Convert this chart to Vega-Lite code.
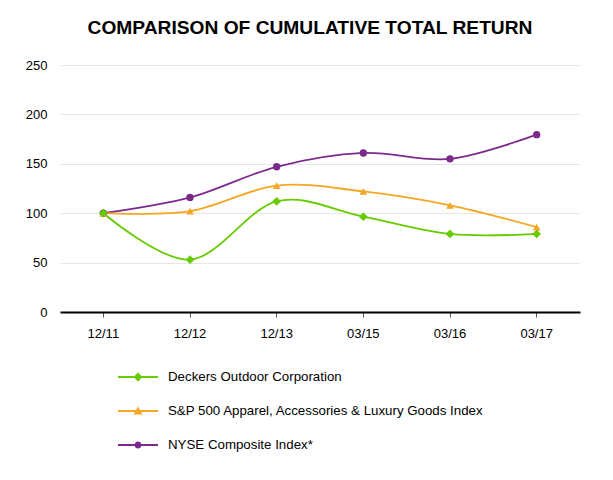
{
  "$schema": "https://vega.github.io/schema/vega-lite/v6.json",
  "width": 520,
  "height": 247,
  "autosize": {"type": "none"},
  "padding": {"left": 60, "top": 65, "right": 33, "bottom": 168},
  "background": "white",
  "config": {"view": {"stroke": null}},
  "title": {
    "text": "COMPARISON OF CUMULATIVE TOTAL RETURN",
    "font": "Liberation Sans",
    "fontSize": 19.2,
    "fontWeight": "bold",
    "color": "#000000",
    "anchor": "middle",
    "dx": -10,
    "offset": 21
  },
  "data": {
    "values": [
      {"period": "12/11", "series": "NYSE Composite Index*", "value": 100},
      {"period": "12/12", "series": "NYSE Composite Index*", "value": 116},
      {"period": "12/13", "series": "NYSE Composite Index*", "value": 147},
      {"period": "03/15", "series": "NYSE Composite Index*", "value": 161},
      {"period": "03/16", "series": "NYSE Composite Index*", "value": 155},
      {"period": "03/17", "series": "NYSE Composite Index*", "value": 179.5},
      {"period": "12/11", "series": "S&P 500 Apparel, Accessories & Luxury Goods Index", "value": 100},
      {"period": "12/12", "series": "S&P 500 Apparel, Accessories & Luxury Goods Index", "value": 102},
      {"period": "12/13", "series": "S&P 500 Apparel, Accessories & Luxury Goods Index", "value": 128},
      {"period": "03/15", "series": "S&P 500 Apparel, Accessories & Luxury Goods Index", "value": 122},
      {"period": "03/16", "series": "S&P 500 Apparel, Accessories & Luxury Goods Index", "value": 108},
      {"period": "03/17", "series": "S&P 500 Apparel, Accessories & Luxury Goods Index", "value": 86},
      {"period": "12/11", "series": "Deckers Outdoor Corporation", "value": 100},
      {"period": "12/12", "series": "Deckers Outdoor Corporation", "value": 53},
      {"period": "12/13", "series": "Deckers Outdoor Corporation", "value": 112},
      {"period": "03/15", "series": "Deckers Outdoor Corporation", "value": 96.5},
      {"period": "03/16", "series": "Deckers Outdoor Corporation", "value": 79},
      {"period": "03/17", "series": "Deckers Outdoor Corporation", "value": 79}
    ]
  },
  "encoding": {
    "x": {
      "field": "period",
      "type": "ordinal",
      "sort": null,
      "scale": {"type": "band", "paddingInner": 0, "paddingOuter": 0},
      "axis": {
        "title": null,
        "labelAngle": 0,
        "labelFont": "Liberation Sans",
        "labelFontSize": 13,
        "labelColor": "#000000",
        "labelPadding": 10,
        "tickColor": "#555555",
        "tickSize": 5,
        "tickBand": "center",
        "domainColor": "#000000",
        "domainWidth": 2,
        "grid": false
      }
    },
    "y": {
      "field": "value",
      "type": "quantitative",
      "scale": {"domain": [0, 250], "nice": false},
      "axis": {
        "title": null,
        "values": [0, 50, 100, 150, 200, 250],
        "labelFont": "Liberation Sans",
        "labelFontSize": 13,
        "labelColor": "#000000",
        "labelPadding": 13,
        "ticks": false,
        "domain": false,
        "grid": true,
        "gridColor": "#e6e6e6",
        "gridWidth": 1
      }
    },
    "color": {
      "field": "series",
      "type": "nominal",
      "scale": {
        "domain": ["Deckers Outdoor Corporation", "S&P 500 Apparel, Accessories & Luxury Goods Index", "NYSE Composite Index*"],
        "range": ["#66cc00", "#f5a623", "#7b2a8c"]
      },
      "legend": {
        "title": null,
        "orient": "none",
        "legendX": 68,
        "legendY": 302,
        "direction": "vertical",
        "symbolSize": 400,
        "rowPadding": 17,
        "labelOffset": 20,
        "labelFont": "Liberation Sans",
        "labelFontSize": 13.3,
        "labelColor": "#000000",
        "labelLimit": 500,
        "encode": {
          "symbols": {
            "update": {
              "shape": {"signal": "datum.value == 'Deckers Outdoor Corporation' ? 'M-2,-0.1H2V0.1H-2Z M0,-0.45L0.45,0L0,0.45L-0.45,0Z' : datum.value == 'NYSE Composite Index*' ? 'M-2,-0.1H2V0.1H-2Z M-0.35,0A0.35,0.35 0 1,1 0.35,0A0.35,0.35 0 1,1 -0.35,0Z' : 'M-2,-0.1H2V0.1H-2Z M0,-0.45L0.45,0.35L-0.45,0.35Z'"},
              "fill": {"scale": "color", "field": "value"},
              "strokeWidth": {"value": 0},
              "opacity": {"value": 1}
            }
          }
        }
      }
    }
  },
  "layer": [
    {
      "mark": {"type": "line", "interpolate": "cardinal", "strokeWidth": 1.8}
    },
    {
      "transform": [{"filter": "datum.series == 'NYSE Composite Index*'"}],
      "mark": {"type": "point", "shape": "circle", "filled": true, "opacity": 1, "size": 55}
    },
    {
      "transform": [{"filter": "datum.series == 'S&P 500 Apparel, Accessories & Luxury Goods Index'"}],
      "mark": {"type": "point", "shape": "triangle-up", "filled": true, "opacity": 1, "size": 60}
    },
    {
      "transform": [{"filter": "datum.series == 'Deckers Outdoor Corporation'"}],
      "mark": {"type": "point", "shape": "diamond", "filled": true, "opacity": 1, "size": 75}
    }
  ]
}
